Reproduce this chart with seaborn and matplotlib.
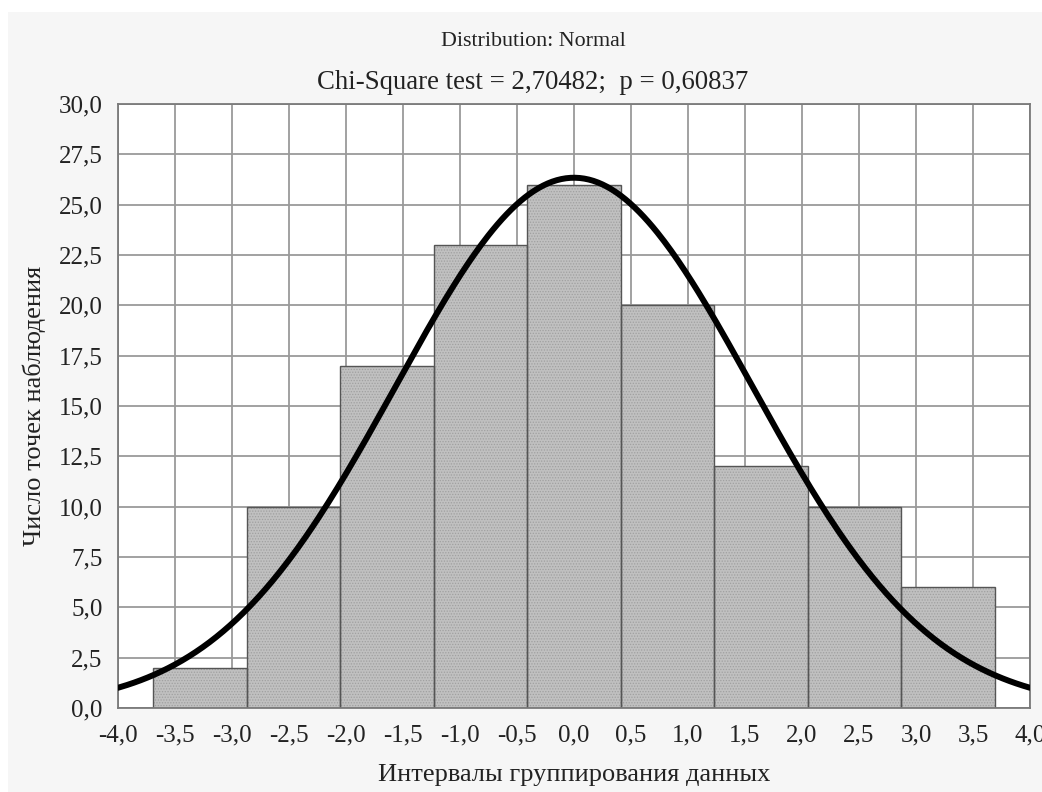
import numpy as np
import matplotlib
matplotlib.use("Agg")
import matplotlib.pyplot as plt
import seaborn as sns
from matplotlib.patches import Rectangle

# ---- data ----
bin_edges = [-3.69, -2.87, -2.05, -1.23, -0.41, 0.41, 1.23, 2.05, 2.87, 3.69]
counts = [2, 10, 17, 23, 26, 20, 12, 10, 6]
fit_mean = 0.0
fit_sd = 1.565
x_ticks = [-4.0, -3.5, -3.0, -2.5, -2.0, -1.5, -1.0, -0.5, 0.0, 0.5, 1.0, 1.5, 2.0, 2.5, 3.0, 3.5, 4.0]
y_ticks = [0.0, 2.5, 5.0, 7.5, 10.0, 12.5, 15.0, 17.5, 20.0, 22.5, 25.0, 27.5, 30.0]
title1 = "Distribution: Normal"
title2 = "Chi-Square test = 2,70482;  p = 0,60837"
xlabel = "Интервалы группирования данных"
ylabel = "Число точек наблюдения"

sns.set_style("white")
plt.rcParams['font.family'] = ['Liberation Serif', 'DejaVu Serif']
plt.rcParams['hatch.linewidth'] = 0.6

fig = plt.figure(figsize=(10.42, 7.92), dpi=100)
fig.patch.set_facecolor("white")
# light gray panel behind chart
fig.patches.append(Rectangle((8/1042, 0), 1 - 8/1042, 1 - 12/792, transform=fig.transFigure,
                             facecolor="#f6f6f6", edgecolor="none", zorder=-10))
ax = fig.add_axes([118/1042, 1 - 708/792, (1030 - 118)/1042, (708 - 104)/792])
ax.set_facecolor("white")

centers = [(bin_edges[i] + bin_edges[i + 1]) / 2 for i in range(len(counts))]
# textured fill
sns.histplot(x=centers, weights=counts, bins=bin_edges, ax=ax,
             color="#c0c0c0", alpha=1, edgecolor="#a0a0a0", linewidth=0, zorder=2)
for p in ax.patches:
    p.set_hatch("......")
    p.set_zorder(2)
# outlines
n_fill = len(ax.patches)
sns.histplot(x=centers, weights=counts, bins=bin_edges, ax=ax, fill=False,
             color="#555555", linewidth=1.0, zorder=2.5)
for p in ax.patches[n_fill:]:
    p.set_zorder(2.5)
    p.set_edgecolor("#555555")

# fitted normal curve
n_total = sum(counts)
bw = (bin_edges[-1] - bin_edges[0]) / len(counts)
xs = np.linspace(-4, 4, 400)
ys = n_total * bw / (fit_sd * np.sqrt(2 * np.pi)) * np.exp(-0.5 * ((xs - fit_mean) / fit_sd) ** 2)
sns.lineplot(x=xs, y=ys, ax=ax, color="black", linewidth=4.3, zorder=3)

ax.set_xlim(-4, 4)
ax.set_ylim(0, 30)
ax.set_xticks(x_ticks)
ax.set_yticks(y_ticks)
ax.set_xticklabels([f"{v:.1f}".replace(".", ",") for v in x_ticks], fontsize=18, color="#222222")
ax.set_yticklabels([f"{v:.1f}".replace(".", ",") for v in y_ticks], fontsize=18, color="#222222")
ax.tick_params(axis="x", length=0, pad=12)
ax.tick_params(axis="y", length=0, pad=11)
ax.grid(True, color="#9a9a9a", linewidth=1.3, zorder=0)
ax.set_axisbelow(True)
for s in ax.spines.values():
    s.set_color("#7a7a7a")
    s.set_linewidth(1.3)
    s.set_visible(True)

ax.set_xlabel(xlabel, fontsize=19, color="#222222", va="center")
ax.xaxis.set_label_coords(0.5, (708 - 775) / 604)
ax.set_ylabel(ylabel, fontsize=19, color="#222222", va="center")
ax.yaxis.set_label_coords((34 - 118) / 912, 0.5)

fig.text(533/1042, 1 - 46/792, title1, ha="center", va="baseline", fontsize=15.8, color="#222222")
fig.text(533/1042, 1 - 89/792, title2, ha="center", va="baseline", fontsize=19.3, color="#222222")

fig.savefig("out.png", dpi=100, facecolor=fig.get_facecolor())
